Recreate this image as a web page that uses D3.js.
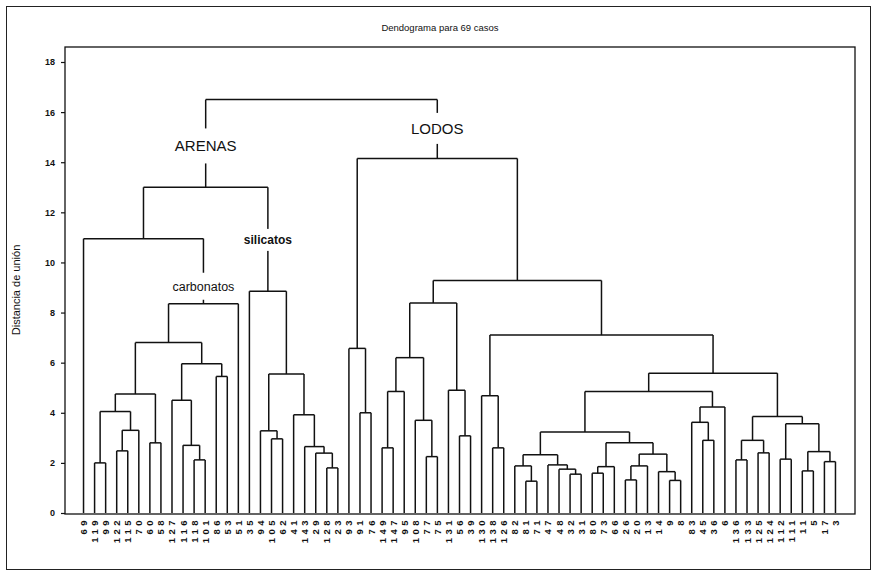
<!DOCTYPE html>
<html>
<head>
<meta charset="utf-8">
<script src="https://d3js.org/d3.v7.min.js"></script>
<style>
  body { margin: 0; background: #fff; }
  text { font-family: "Liberation Sans", Arial, sans-serif; fill: #111; }
</style>
</head>
<body>
<script>
// case numbers, in the order they sit under the tree
var leafLabels = [
  "69","119","99","122","115","70","60","58","127","116","118","101","86","53","51","35","94","105","62","41","143","29","128","23",
  "93","91","76","149","147","95","108","77","75","131","56","39","130","138","126","82","81","71","47","48","32","31","80","73",
  "66","26","20","13","14","9","8","83","45","36","6","136","133","125","124","112","111","11","5","17","3"
];

// joins: [a, b, distance]; ids >= 69 point at earlier joins (69 + row)
var merges = [
  [1, 2, 2.0], [3, 4, 2.48], [70, 5, 3.3], [69, 71, 4.05], [6, 7, 2.8],
  [72, 73, 4.75], [10, 11, 2.12], [9, 75, 2.7], [8, 76, 4.5], [12, 13, 5.45],
  [77, 78, 5.96], [74, 79, 6.8], [80, 14, 8.35], [0, 81, 10.95],
  [17, 18, 2.96], [16, 83, 3.28], [22, 23, 1.8], [21, 85, 2.39], [20, 86, 2.65],
  [19, 87, 3.92], [84, 88, 5.55], [15, 89, 8.85], [82, 90, 13.0],
  [25, 26, 4.0], [24, 92, 6.57], [27, 28, 2.6], [94, 29, 4.85], [31, 32, 2.25],
  [30, 96, 3.7], [95, 97, 6.2], [34, 35, 3.08], [33, 99, 4.9], [98, 100, 8.38],
  [37, 38, 2.6], [36, 102, 4.68],
  [40, 41, 1.27], [39, 104, 1.88], [44, 45, 1.55], [43, 106, 1.75], [42, 107, 1.92],
  [105, 108, 2.32], [46, 47, 1.59], [110, 48, 1.85], [49, 50, 1.32], [112, 51, 1.88],
  [53, 54, 1.3], [52, 114, 1.65], [113, 115, 2.35], [111, 116, 2.8], [109, 117, 3.23],
  [56, 57, 2.9], [55, 119, 3.62], [120, 58, 4.23], [118, 121, 4.85],
  [59, 60, 2.12], [61, 62, 2.4], [123, 124, 2.9], [63, 64, 2.15], [65, 66, 1.68],
  [67, 68, 2.05], [127, 128, 2.45], [126, 129, 3.56], [125, 130, 3.85], [122, 131, 5.58],
  [103, 132, 7.1], [101, 133, 9.28], [93, 134, 14.15], [91, 135, 16.5]
];

var yTicks = [0, 2, 4, 6, 8, 10, 12, 14, 16, 18];

// group names written on the branch above a join
var groupNames = ["ARENAS", "LODOS", "silicatos", "carbonatos"];
var groupJoins = [91, 135, 90, 81];

var W = 877, H = 575;
var svg = d3.select("body").append("svg")
    .attr("width", W)
    .attr("height", H);

// outer frame of the scanned figure
svg.append("rect")
    .attr("x", 6.5).attr("y", 6.5)
    .attr("width", 864).attr("height", 563)
    .attr("fill", "none").attr("stroke", "#222").attr("stroke-width", 1);

var plot = {left: 65, right: 855, top: 47, bottom: 514};

svg.append("text")
    .attr("x", 440).attr("y", 31)
    .attr("text-anchor", "middle")
    .style("font-size", "9.5px")
    .text("Dendograma para 69 casos");

svg.append("text")
    .attr("transform", "translate(20,290) rotate(-90)")
    .attr("text-anchor", "middle")
    .style("font-size", "11px")
    .text("Distancia de unión");

/*
  build the tree from the joins
*/
var n = leafLabels.length;
function build(id) {
  if (id < n) return {id: id, h: 0, label: leafLabels[id]};
  var m = merges[id - n];
  return {id: id, h: m[2], children: [build(m[0]), build(m[1])]};
}
var root = d3.hierarchy(build(n + merges.length - 1));
d3.cluster().size([1, 1]).separation(function() { return 1; })(root);

var x = d3.scaleLinear().domain([0, 1]).range([78, 841]);
var y = d3.scaleLinear().domain([0, 18]).range([513, 62]);

svg.append("rect")
    .attr("x", plot.left).attr("y", plot.top)
    .attr("width", plot.right - plot.left).attr("height", plot.bottom - plot.top)
    .attr("fill", "none").attr("stroke", "#111").attr("stroke-width", 1.3);

var yAxis = svg.append("g")
    .attr("transform", "translate(" + plot.left + ",0)")
    .call(d3.axisLeft(y).tickValues(yTicks).tickSize(4).tickPadding(6));
yAxis.select(".domain").remove();
yAxis.selectAll("line").attr("stroke", "#111").attr("stroke-width", 1.2);
yAxis.selectAll("text")
    .style("font-size", "9px")
    .style("font-weight", "bold")
    .style("font-family", "\"Liberation Sans\", Arial, sans-serif");

/*
  branches
*/
var g = svg.append("g")
    .attr("fill", "none")
    .attr("stroke", "#111")
    .attr("stroke-width", 1.5);

root.descendants().forEach(function(d) {
  if (!d.children) return;
  var a = d.children[0], b = d.children[1];
  g.append("line")
      .attr("x1", x(a.x)).attr("x2", x(b.x))
      .attr("y1", y(d.data.h)).attr("y2", y(d.data.h));
  d.children.forEach(function(c) {
    g.append("line")
        .attr("x1", x(c.x)).attr("x2", x(c.x))
        .attr("y1", y(c.data.h)).attr("y2", y(d.data.h));
  });
});

/*
  case labels under the axis
*/
svg.append("g").selectAll("text")
    .data(root.leaves())
    .join("text")
    .attr("transform", function(d) { return "translate(" + (x(d.x) + 3.5) + ",517) rotate(-90)"; })
    .attr("text-anchor", "end")
    .style("font-size", "9.5px")
    .style("font-weight", "bold")
    .style("letter-spacing", "3.5px")
    .text(function(d) { return d.data.label; });

/*
  group names, sitting on a white patch over the branch
*/
var nameStyle = {
  "ARENAS":     {h: 14.65, size: 15, gap: 35, weight: "normal"},
  "LODOS":      {h: 15.35, size: 15, gap: 31, weight: "normal"},
  "silicatos":  {h: 10.9,  size: 12, gap: 22, weight: "bold"},
  "carbonatos": {h: 9.05,  size: 12.5, gap: 27, weight: "normal"}
};
groupNames.forEach(function(name, i) {
  var node = root.descendants().find(function(d) { return d.data.id === groupJoins[i]; });
  var s = nameStyle[name];
  var cx = x(node.x), cy = y(s.h);
  var t = svg.append("text")
      .attr("x", cx).attr("y", cy)
      .attr("dy", "0.35em")
      .attr("text-anchor", "middle")
      .style("font-size", s.size + "px")
      .style("font-weight", s.weight)
      .text(name);
  var bb = t.node().getBBox();
  svg.insert("rect", function() { return t.node(); })
      .attr("x", bb.x - 2).attr("y", cy - s.gap / 2)
      .attr("width", bb.width + 4).attr("height", s.gap)
      .attr("fill", "#fff");
});
</script>
</body>
</html>
